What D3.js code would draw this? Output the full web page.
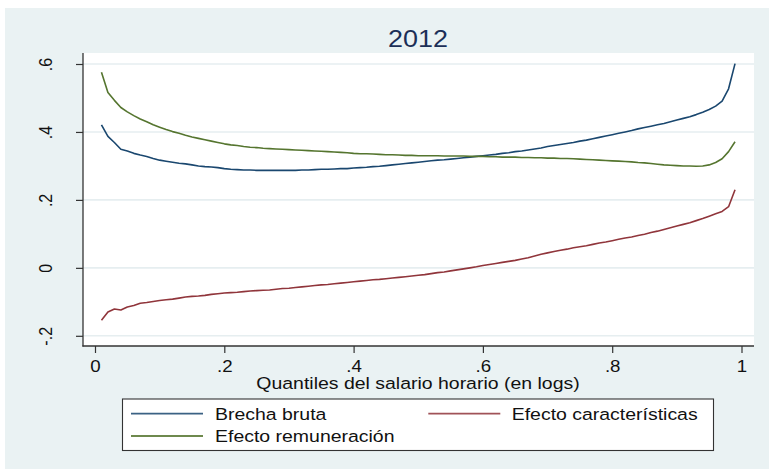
<!DOCTYPE html>
<html>
<head>
<meta charset="utf-8">
<script src="https://cdn.jsdelivr.net/npm/d3@7"></script>
<style>
  body { margin: 0; background: #ffffff; }
  svg { display: block; }
  text { font-family: "Liberation Sans", Arial, sans-serif; }
</style>
</head>
<body>
<svg id="chart" width="769" height="469"></svg>
<script>
// Quantile grid of the hourly wage distribution (logs)
const quantiles = [
  0.01,0.02,0.03,0.04,0.05,0.06,0.07,0.08,0.09,0.10,
  0.11,0.12,0.13,0.14,0.15,0.16,0.17,0.18,0.19,0.20,
  0.21,0.22,0.23,0.24,0.25,0.26,0.27,0.28,0.29,0.30,
  0.31,0.32,0.33,0.34,0.35,0.36,0.37,0.38,0.39,0.40,
  0.41,0.42,0.43,0.44,0.45,0.46,0.47,0.48,0.49,0.50,
  0.51,0.52,0.53,0.54,0.55,0.56,0.57,0.58,0.59,0.60,
  0.61,0.62,0.63,0.64,0.65,0.66,0.67,0.68,0.69,0.70,
  0.71,0.72,0.73,0.74,0.75,0.76,0.77,0.78,0.79,0.80,
  0.81,0.82,0.83,0.84,0.85,0.86,0.87,0.88,0.89,0.90,
  0.91,0.92,0.93,0.94,0.95,0.96,0.97,0.98,0.99
];

// Raw gap
const brechaBruta = [
  0.421,0.387,0.369,0.349,0.344,0.337,0.332,0.328,0.322,0.317,
  0.314,0.311,0.308,0.306,0.303,0.300,0.298,0.297,0.295,0.292,
  0.290,0.289,0.288,0.288,0.287,0.287,0.287,0.287,0.287,0.287,
  0.287,0.288,0.288,0.289,0.290,0.290,0.291,0.292,0.292,0.294,
  0.295,0.296,0.298,0.299,0.301,0.303,0.305,0.307,0.309,0.311,
  0.313,0.315,0.317,0.318,0.320,0.322,0.324,0.326,0.328,0.330,
  0.332,0.334,0.337,0.339,0.342,0.344,0.347,0.350,0.353,0.357,
  0.360,0.363,0.366,0.369,0.373,0.376,0.380,0.384,0.388,0.392,
  0.396,0.400,0.404,0.409,0.413,0.417,0.421,0.425,0.430,0.435,
  0.440,0.445,0.451,0.458,0.466,0.476,0.491,0.527,0.601
];

// Characteristics effect
const efectoCaracteristicas = [
  -0.154,-0.130,-0.121,-0.124,-0.115,-0.111,-0.104,-0.102,-0.099,-0.096,
  -0.094,-0.092,-0.089,-0.086,-0.084,-0.083,-0.081,-0.078,-0.076,-0.074,
  -0.073,-0.072,-0.070,-0.068,-0.067,-0.066,-0.065,-0.063,-0.061,-0.060,
  -0.058,-0.056,-0.054,-0.052,-0.050,-0.049,-0.047,-0.045,-0.043,-0.041,
  -0.039,-0.037,-0.035,-0.034,-0.032,-0.030,-0.028,-0.026,-0.024,-0.022,
  -0.020,-0.017,-0.014,-0.012,-0.009,-0.006,-0.003,0.000,0.003,0.007,
  0.010,0.013,0.016,0.019,0.022,0.026,0.030,0.035,0.040,0.044,
  0.048,0.052,0.055,0.059,0.062,0.065,0.069,0.073,0.076,0.080,
  0.084,0.088,0.091,0.095,0.099,0.104,0.108,0.113,0.118,0.123,
  0.128,0.133,0.139,0.145,0.152,0.159,0.166,0.180,0.230
];

// Remuneration (returns) effect
const efectoRemuneracion = [
  0.576,0.516,0.493,0.472,0.459,0.448,0.438,0.430,0.421,0.414,
  0.407,0.401,0.396,0.390,0.385,0.381,0.377,0.373,0.369,0.365,
  0.362,0.360,0.357,0.355,0.354,0.352,0.351,0.350,0.349,0.348,
  0.347,0.346,0.345,0.344,0.343,0.342,0.341,0.340,0.339,0.337,
  0.336,0.336,0.335,0.334,0.333,0.333,0.332,0.331,0.331,0.330,
  0.330,0.330,0.330,0.329,0.329,0.329,0.329,0.328,0.328,0.328,
  0.327,0.327,0.326,0.326,0.326,0.325,0.325,0.324,0.324,0.323,
  0.323,0.322,0.322,0.321,0.320,0.319,0.318,0.317,0.316,0.315,
  0.314,0.313,0.312,0.310,0.309,0.307,0.305,0.303,0.302,0.301,
  0.300,0.300,0.299,0.300,0.303,0.310,0.321,0.342,0.371
];

const xTicks = [0, 0.2, 0.4, 0.6, 0.8, 1];
const xTickLabels = ["0", ".2", ".4", ".6", ".8", "1"];
const yTicks = [-0.2, 0, 0.2, 0.4, 0.6];
const yTickLabels = ["-.2", "0", ".2", ".4", ".6"];

const seriesNames = ["Brecha bruta", "Efecto características", "Efecto remuneración"];
const seriesColors = ["#1a476f", "#90353b", "#55752f"];

const titleText = "2012";
const xTitleText = "Quantiles del salario horario (en logs)";

// Text is drawn a little wider than its natural shape
const SX = 1.17;
const SX_TEXT = 1.18;

const svg = d3.select("#chart");

// Graph region background
svg.append("rect")
  .attr("x", 5).attr("y", 8).attr("width", 764).attr("height", 461)
  .attr("fill", "#eaf2f3");

// Plot region
const plot = { left: 83, right: 754, top: 53, bottom: 346 };
svg.append("rect")
  .attr("x", plot.left).attr("y", plot.top)
  .attr("width", plot.right - plot.left).attr("height", plot.bottom - plot.top)
  .attr("fill", "#ffffff");

const x = d3.scaleLinear().domain([0, 1]).range([95, 741.5]);
const y = d3.scaleLinear().domain([-0.2, 0.6]).range([335.8, 64]);

// Horizontal grid lines
svg.append("g")
  .selectAll("line")
  .data(yTicks)
  .join("line")
  .attr("x1", plot.left).attr("x2", plot.right)
  .attr("y1", d => y(d)).attr("y2", d => y(d))
  .attr("stroke", "#e6eef0").attr("stroke-width", 1.6);

// Axes
const xAxis = svg.append("g")
  .attr("transform", `translate(0,${plot.bottom})`)
  .call(d3.axisBottom(x).tickValues(xTicks)
    .tickFormat((d, i) => xTickLabels[i]).tickSize(7).tickPadding(0));
xAxis.select(".domain").remove();
xAxis.selectAll(".tick line").attr("stroke", "#333").attr("stroke-width", 1.2);
xAxis.selectAll(".tick text")
  .attr("x", null).attr("y", null).attr("dy", null)
  .attr("transform", `translate(0,25.5) scale(${SX},1)`)
  .attr("text-anchor", "middle")
  .attr("font-size", 16).attr("fill", "#111");

const yAxis = svg.append("g")
  .attr("transform", `translate(${plot.left},0)`)
  .call(d3.axisLeft(y).tickValues(yTicks)
    .tickFormat((d, i) => yTickLabels[i]).tickSize(7).tickPadding(0));
yAxis.select(".domain").remove();
yAxis.selectAll(".tick line").attr("stroke", "#333").attr("stroke-width", 1.2);
yAxis.selectAll(".tick text")
  .attr("x", null).attr("y", null).attr("dy", null)
  .attr("transform", `translate(${51.5 - plot.left},0) scale(${SX},1) rotate(-90)`)
  .attr("text-anchor", "middle")
  .attr("font-size", 16).attr("fill", "#111");

// Axis lines
svg.append("line")
  .attr("x1", plot.left).attr("x2", plot.left)
  .attr("y1", plot.top).attr("y2", plot.bottom + 0.6)
  .attr("stroke", "#333").attr("stroke-width", 1.3);
svg.append("line")
  .attr("x1", plot.left - 0.6).attr("x2", plot.right)
  .attr("y1", plot.bottom).attr("y2", plot.bottom)
  .attr("stroke", "#333").attr("stroke-width", 1.3);

// Series lines
const allSeries = [brechaBruta, efectoCaracteristicas, efectoRemuneracion];
const line = d3.line().x((d, i) => x(quantiles[i])).y(d => y(d));
svg.append("g")
  .selectAll("path")
  .data(allSeries)
  .join("path")
  .attr("d", d => line(d))
  .attr("fill", "none")
  .attr("stroke", (d, i) => seriesColors[i])
  .attr("stroke-width", 1.6)
  .attr("stroke-linejoin", "round");

// Title
svg.append("text")
  .attr("transform", `translate(418,46.5) scale(${SX},1)`)
  .attr("text-anchor", "middle")
  .attr("font-size", 23)
  .attr("fill", "#1c2f57")
  .text(titleText);

// X axis title
svg.append("text")
  .attr("transform", `translate(418,388.5) scale(${SX_TEXT},1)`)
  .attr("text-anchor", "middle")
  .attr("font-size", 16.5)
  .attr("fill", "#111")
  .text(xTitleText);

// Legend
const legend = svg.append("g");
legend.append("rect")
  .attr("x", 122.5).attr("y", 399)
  .attr("width", 591).attr("height", 51.5)
  .attr("fill", "#ffffff").attr("stroke", "#333").attr("stroke-width", 1.1);

const legendPos = [
  { lx: 131, tx: 215, ly: 413.7 },
  { lx: 428.3, tx: 511.7, ly: 413.7 },
  { lx: 131, tx: 215, ly: 436 }
];
const items = legend.selectAll("g.item")
  .data(seriesNames)
  .join("g").attr("class", "item");
items.append("line")
  .attr("x1", (d, i) => legendPos[i].lx)
  .attr("x2", (d, i) => legendPos[i].lx + 72)
  .attr("y1", (d, i) => legendPos[i].ly)
  .attr("y2", (d, i) => legendPos[i].ly)
  .attr("stroke", (d, i) => seriesColors[i])
  .attr("stroke-width", 1.8)
  .attr("opacity", 0.85);
items.append("text")
  .attr("transform", (d, i) => `translate(${legendPos[i].tx},${legendPos[i].ly + 5.9}) scale(${SX_TEXT},1)`)
  .attr("font-size", 16.5)
  .attr("fill", "#111")
  .text(d => d);
</script>
</body>
</html>
